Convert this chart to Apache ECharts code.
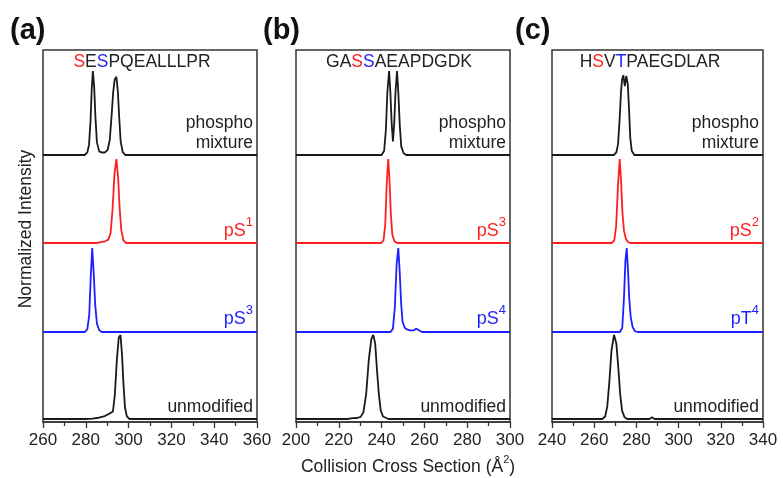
<!DOCTYPE html>
<html>
<head>
<meta charset="utf-8">
<script src="https://cdn.jsdelivr.net/npm/echarts@6/dist/echarts.min.js"></script>
<style>
  html, body { margin: 0; padding: 0; background: #fff; }
  #chart { width: 783px; height: 478px; }
</style>
</head>
<body>
<div id="chart"></div>
<script>
// x ranges of the three panels (CCS, A^2)
const rangeA = [260, 360];
const rangeB = [200, 300];
const rangeC = [240, 340];

// panel (a) SESPQEALLLPR
const mixA = [[260,0],[279.5,0],[280.7,0.03],[281.5,0.12],[282.2,0.4],[282.8,0.8],[283.3,1.0],[283.9,0.82],[284.5,0.45],[285.2,0.15],[286.3,0.04],[287.6,0.03],[289,0.03],[290.2,0.06],[291.2,0.18],[292,0.45],[292.8,0.75],[293.5,0.9],[294.3,0.93],[295,0.75],[295.6,0.45],[296.3,0.16],[297.3,0.03],[298.5,0],[360,0]];
const pS1A = [[260,0],[285,0],[287,0.01],[289,0.02],[290.5,0.04],[291.6,0.12],[292.5,0.4],[293.4,0.82],[294.3,1.0],[295.1,0.78],[295.8,0.42],[296.6,0.15],[297.6,0.03],[298.8,0],[360,0]];
const pS3A = [[260,0],[279.5,0],[280.7,0.03],[281.6,0.2],[282.3,0.65],[283,1.0],[283.7,0.7],[284.4,0.32],[285.2,0.1],[286.3,0.02],[287.5,0],[360,0]];
const unmodA = [[260,0],[280,0],[283,0.005],[286,0.015],[288.5,0.03],[290,0.05],[291.5,0.07],[292.7,0.09],[293.6,0.3],[294.5,0.7],[295.4,0.97],[296.2,1.0],[296.9,0.78],[297.6,0.42],[298.3,0.14],[299.2,0.03],[300.4,0],[360,0]];

// panel (b) GASSAEAPDGDK
const mixB = [[200,0],[240,0],[241.2,0.05],[242,0.3],[242.7,0.75],[243.5,1.0],[244.1,0.75],[244.7,0.38],[245.3,0.16],[245.9,0.38],[246.5,0.75],[247.2,1.0],[247.8,0.75],[248.5,0.35],[249.2,0.1],[250.3,0.02],[251.5,0],[300,0]];
const pS3B = [[200,0],[239.8,0],[240.9,0.03],[241.7,0.22],[242.4,0.7],[243.1,1.0],[243.7,0.75],[244.3,0.35],[245,0.1],[246,0.02],[247.2,0],[300,0]];
const pS4B = [[200,0],[244.2,0],[245.3,0.04],[246.2,0.3],[247,0.8],[247.8,1.0],[248.5,0.7],[249.1,0.35],[249.8,0.12],[250.8,0.05],[251.9,0.03],[253.2,0.02],[255,0.02],[256.3,0.04],[257.5,0.02],[258.8,0],[300,0]];
const unmodB = [[200,0],[224,0],[226.5,0.01],[228.5,0.012],[230.2,0.025],[231.5,0.08],[232.8,0.3],[234,0.7],[235.2,0.95],[236.1,1.0],[237,0.9],[237.8,0.6],[238.7,0.3],[239.6,0.1],[240.7,0.03],[241.9,0.015],[243.2,0],[300,0]];

// panel (c) HSVTPAEGDLAR
const mixC = [[240,0],[269.3,0],[270.5,0.03],[271.3,0.13],[272,0.4],[272.7,0.75],[273.2,0.9],[273.8,0.95],[274.5,0.82],[275.2,0.94],[275.9,0.85],[276.5,0.55],[277.1,0.2],[277.8,0.05],[279,0],[340,0]];
const pS2C = [[240,0],[268.3,0],[269.5,0.03],[270.4,0.2],[271.3,0.7],[272.1,1.0],[272.8,0.7],[273.4,0.35],[274.1,0.15],[275,0.05],[276.1,0.01],[277.3,0],[340,0]];
const pT4C = [[240,0],[272.2,0],[273.3,0.05],[274.1,0.4],[274.8,0.85],[275.4,1.0],[276,0.75],[276.6,0.4],[277.3,0.18],[278.2,0.06],[279.3,0.01],[280.5,0],[340,0]];
const unmodC = [[240,0],[263.8,0],[265.2,0.03],[266.2,0.15],[267.2,0.45],[268.2,0.82],[269.4,1.0],[270.5,0.9],[271.4,0.62],[272.3,0.3],[273.2,0.1],[274.4,0.02],[275.6,0],[286.2,0],[287.4,0.02],[288.6,0],[340,0]];

const panelLetters = ['(a)', '(b)', '(c)'];
const peptides = ['{r|S}E{b|S}PQEALLLPR', 'GA{r|S}{b|S}AEAPDGDK', 'H{r|S}V{b|T}PAEGDLAR'];
const redLabels = ['pS{s|1}', 'pS{s|3}', 'pS{s|2}'];
const blueLabels = ['pS{s|3}', 'pS{s|4}', 'pT{s|4}'];

const BLACK = '#1a1a1a', RED = '#ff1f1f', BLUE = '#1f1fff';
const FONT = 'Liberation Sans, Arial, sans-serif';

const panels = [
  { range: rangeA, traces: [mixA, pS1A, pS3A, unmodA], left: 43, width: 214, letterX: 10, pepX: 142 },
  { range: rangeB, traces: [mixB, pS3B, pS4B, unmodB], left: 296, width: 214, letterX: 263, pepX: 399 },
  { range: rangeC, traces: [mixC, pS2C, pT4C, unmodC], left: 552, width: 211, letterX: 515, pepX: 650 }
];
const traceColors = [BLACK, RED, BLUE, BLACK];
const baselines = [155, 243, 332, 419];
const traceH = 84;

const grid = [], xAxis = [], yAxis = [], series = [], graphic = [];

function label(x, y, text, color, size) {
  return { type: 'text', x: x, y: y, z: 10,
    style: { text: text, fontSize: size, fontFamily: FONT, fill: color, align: 'right', verticalAlign: 'middle' } };
}
// text with a raised superscript token {s|..}
function supLabel(x, y, text, color, align) {
  return { type: 'text', x: x, y: y, z: 10,
    style: { text: text, fontSize: 18, fontFamily: FONT, fill: color, align: align, verticalAlign: 'middle',
      lineHeight: 30,
      rich: { s: { fontSize: 13, fill: color, fontFamily: FONT, verticalAlign: 'top', lineHeight: 12 } } } };
}

panels.forEach(function (p, pi) {
  // frame with the visible x axis
  grid.push({ left: p.left, width: p.width, top: 50, height: 372, show: true,
    borderColor: '#333', borderWidth: 1.5, backgroundColor: 'transparent' });
  const fi = grid.length - 1;
  xAxis.push({ gridIndex: fi, type: 'value', min: p.range[0], max: p.range[1], interval: 20,
    axisLine: { show: true, lineStyle: { color: '#333', width: 1.5 } },
    axisTick: { show: true, inside: false, length: 6, lineStyle: { color: '#333', width: 1.3 } },
    minorTick: { show: true, splitNumber: 2, length: 4, lineStyle: { color: '#333', width: 1.3 } },
    splitLine: { show: false },
    axisLabel: { fontSize: 17, color: '#222', fontFamily: FONT, margin: 10 } });
  yAxis.push({ gridIndex: fi, type: 'value', show: false, min: 0, max: 1 });

  p.traces.forEach(function (tr, ti) {
    grid.push({ left: p.left, width: p.width, top: baselines[ti] - traceH, height: traceH });
    const gi = grid.length - 1;
    xAxis.push({ gridIndex: gi, type: 'value', show: false, min: p.range[0], max: p.range[1] });
    yAxis.push({ gridIndex: gi, type: 'value', show: false, min: 0, max: 1 });
    series.push({ type: 'line', xAxisIndex: gi, yAxisIndex: gi, data: tr, showSymbol: false,
      clip: false, silent: true, z: 3,
      lineStyle: { color: traceColors[ti], width: 1.8 } });
  });

  const rx = p.left + p.width - 4;
  graphic.push({ type: 'text', x: p.letterX, y: 31,
    style: { text: panelLetters[pi], fontSize: 29, fontWeight: 'bold', fontFamily: FONT,
      fill: '#111', align: 'left', verticalAlign: 'middle' } });
  graphic.push({ type: 'text', x: p.pepX, y: 62, z: 10,
    style: { text: peptides[pi], fontSize: 17.5, fontFamily: FONT, fill: '#222',
      align: 'center', verticalAlign: 'middle',
      rich: { r: { fill: RED, fontSize: 17.5, fontFamily: FONT },
              b: { fill: BLUE, fontSize: 17.5, fontFamily: FONT } } } });
  graphic.push(label(rx, 123, 'phospho', '#222', 17.5));
  graphic.push(label(rx, 143, 'mixture', '#222', 17.5));
  graphic.push(supLabel(rx, 231, redLabels[pi], RED, 'right'));
  graphic.push(supLabel(rx, 319, blueLabels[pi], BLUE, 'right'));
  graphic.push(label(rx, 407, 'unmodified', '#222', 17.5));
});

graphic.push({ type: 'text', x: 26, y: 229, rotation: Math.PI / 2,
  style: { text: 'Normalized Intensity', fontSize: 17.5, fontFamily: FONT, fill: '#222',
    align: 'center', verticalAlign: 'middle' } });
graphic.push({ type: 'text', x: 408, y: 467,
  style: { text: 'Collision Cross Section (Å{s|2})', fontSize: 17.5, fontFamily: FONT, fill: '#222',
    align: 'center', verticalAlign: 'middle', lineHeight: 26,
    rich: { s: { fontSize: 11, fill: '#222', fontFamily: FONT, verticalAlign: 'top', lineHeight: 12 } } } });

const chart = echarts.init(document.getElementById('chart'), null, { renderer: 'canvas' });
chart.setOption({
  animation: false,
  backgroundColor: '#fff',
  grid: grid,
  xAxis: xAxis,
  yAxis: yAxis,
  series: series,
  graphic: graphic
});
</script>
</body>
</html>
